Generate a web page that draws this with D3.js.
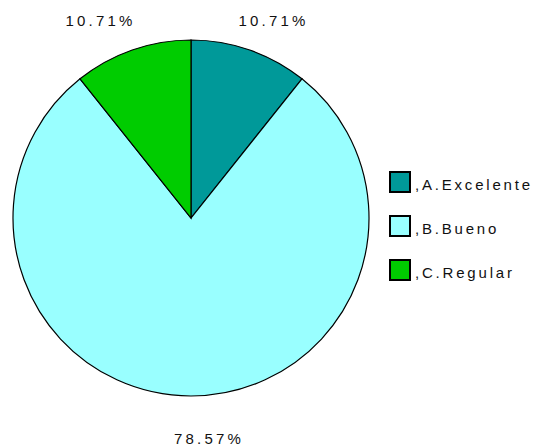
<!DOCTYPE html>
<html>
<head>
<meta charset="utf-8">
<script src="https://cdn.jsdelivr.net/npm/d3@7"></script>
<style>
  html, body { margin: 0; padding: 0; background: #fff; }
  svg { display: block; font-family: "Liberation Sans", Arial, sans-serif; }
</style>
</head>
<body>
<div id="chart"></div>
<script>
// data
const categories = [",A.Excelente", ",B.Bueno", ",C.Regular"];
const counts = [3, 22, 3];
const pctLabels = ["10.71%", "78.57%", "10.71%"];
const colors = ["#009999", "#99ffff", "#00cc00"];

const W = 537, H = 448;
const cx = 191, cy = 218, r = 178;

const svg = d3.select("#chart").append("svg")
  .attr("width", W)
  .attr("height", H);

const pie = d3.pie().sort(null).value(d => d);
const arcs = pie(counts);

const arc = d3.arc().innerRadius(0).outerRadius(r);

const g = svg.append("g").attr("transform", `translate(${cx},${cy})`);

g.selectAll("path.slice")
  .data(arcs)
  .enter()
  .append("path")
  .attr("class", "slice")
  .attr("d", arc)
  .attr("fill", (d, i) => colors[i])
  .attr("stroke", "#000")
  .attr("stroke-width", 1.2);

// labels on an ellipse around the pie
const rxLab = 262, ryLab = 215;
const labelDx = [-4, 18, -4];
const mid = d => (d.startAngle + d.endAngle) / 2;
g.selectAll("text.pct")
  .data(arcs)
  .enter()
  .append("text")
  .attr("class", "pct")
  .attr("x", (d, i) => Math.sin(mid(d)) * rxLab + labelDx[i])
  .attr("y", d => -Math.cos(mid(d)) * ryLab + 10.5)
  .attr("text-anchor", "middle")
  .attr("font-size", "15px")
  .attr("letter-spacing", "3.2px")
  .attr("fill", "#111")
  .text((d, i) => pctLabels[i]);

// legend
const legend = svg.append("g").attr("transform", "translate(390,172)");
const rowGap = 44;

legend.selectAll("rect")
  .data(categories)
  .enter()
  .append("rect")
  .attr("x", 0)
  .attr("y", (d, i) => i * rowGap)
  .attr("width", 20)
  .attr("height", 20)
  .attr("fill", (d, i) => colors[i])
  .attr("stroke", "#000")
  .attr("stroke-width", 2);

legend.selectAll("text")
  .data(categories)
  .enter()
  .append("text")
  .attr("x", 25)
  .attr("y", (d, i) => i * rowGap + 18)
  .attr("font-size", "15px")
  .attr("letter-spacing", "2.8px")
  .attr("fill", "#111")
  .text(d => d);
</script>
</body>
</html>
